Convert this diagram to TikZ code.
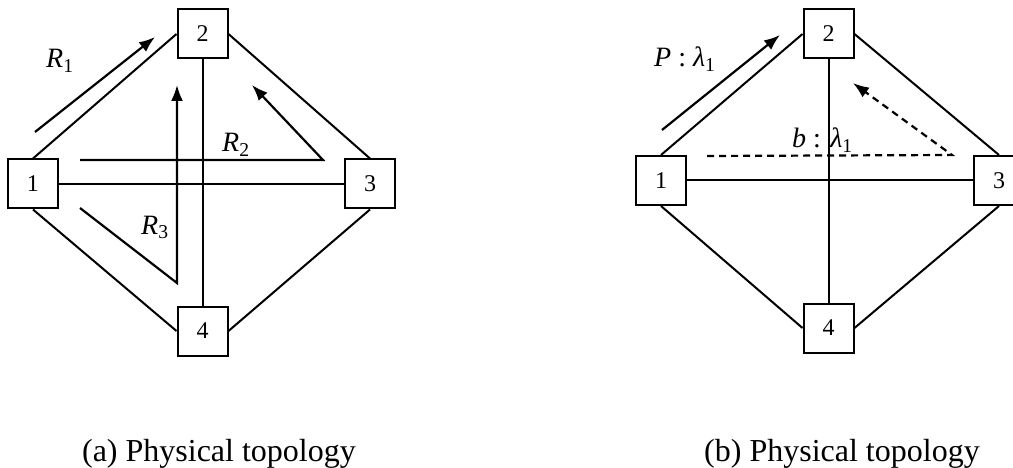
\documentclass[tikz,border=0pt]{standalone}
\usepackage{fontspec}
\setmainfont{Liberation Serif}
\usetikzlibrary{arrows.meta}
\begin{document}
\begin{tikzpicture}[x=1pt,y=-1pt,
  nodebox/.style={draw,line width=2pt,minimum width=50pt,minimum height=49pt,inner sep=0pt,font=\fontsize{24}{26}\selectfont},
  link/.style={line width=2pt},
  route/.style={line width=2.2pt,-{Latex[length=16pt,width=12pt]}},
  backup/.style={route,dash pattern=on 7pt off 5pt},
  lbl/.style={font=\fontsize{28}{30}\selectfont,inner sep=0pt,anchor=base west},
  captext/.style={font=\fontsize{32}{34}\selectfont,inner sep=0pt,anchor=base}]
\useasboundingbox (0,0) rectangle (1013,468);
% ---------- (a) ----------
\node[nodebox] (a1) at (33,184) {1};
\node[nodebox] (a2) at (202.5,34) {2};
\node[nodebox] (a3) at (370,184) {3};
\node[nodebox] (a4) at (202.5,331) {4};
\draw[link] (a1.north) -- (a2.west);
\draw[link] (a2.east) -- (a3.north);
\draw[link] (a1.south) -- (a4.west);
\draw[link] (a3.south) -- (a4.east);
\draw[link] (a2.south) -- (a4.north);
\draw[link] (a1.east) -- (a3.west);
\coordinate (r1s) at (35,132);
\coordinate (r1e) at (155,37);
\draw[route] (r1s) -- (r1e);
\coordinate (r2s) at (80,160);
\coordinate (r2m) at (323,160);
\coordinate (r2e) at (252,85);
\draw[route] (r2s) -- (r2m) -- (r2e);
\coordinate (r3s) at (80,208);
\coordinate (r3m) at (177,283);
\coordinate (r3e) at (177,85);
\draw[route] (r3s) -- (r3m) -- (r3e);
\node[lbl] (lr1) at (46,68) {\textit{R}\textsubscript{1}};
\node[lbl] (lr2) at (222,152) {\textit{R}\textsubscript{2}};
\node[lbl] (lr3) at (141,234) {\textit{R}\textsubscript{3}};
\node[captext] (capa) at (219,461) {(a) Physical topology};
% ---------- (b) ----------
\node[nodebox] (b1) at (661,180.5) {1};
\node[nodebox] (b2) at (828.5,34) {2};
\node[nodebox] (b3) at (999,180.5) {3};
\node[nodebox] (b4) at (828.5,328) {4};
\draw[link] (b1.north) -- (b2.west);
\draw[link] (b2.east) -- (b3.north);
\draw[link] (b1.south) -- (b4.west);
\draw[link] (b3.south) -- (b4.east);
\draw[link] (b2.south) -- (b4.north);
\draw[link] (b1.east) -- (b3.west);
\coordinate (ps) at (662,130);
\coordinate (pe) at (780,35);
\draw[route] (ps) -- (pe);
\coordinate (bs) at (707,156);
\coordinate (bm) at (952,155);
\coordinate (be) at (853,83);
\draw[backup] (bs) -- (bm) -- (be);
\node[lbl] (lp) at (654,67) {\textit{P} : \textit{λ}\textsubscript{1}};
\node[lbl] (lb) at (792,148) {\textit{b} : \textit{λ}\textsubscript{1}};
\node[captext] (capb) at (842,461) {(b) Physical topology};
\end{tikzpicture}
\end{document}
